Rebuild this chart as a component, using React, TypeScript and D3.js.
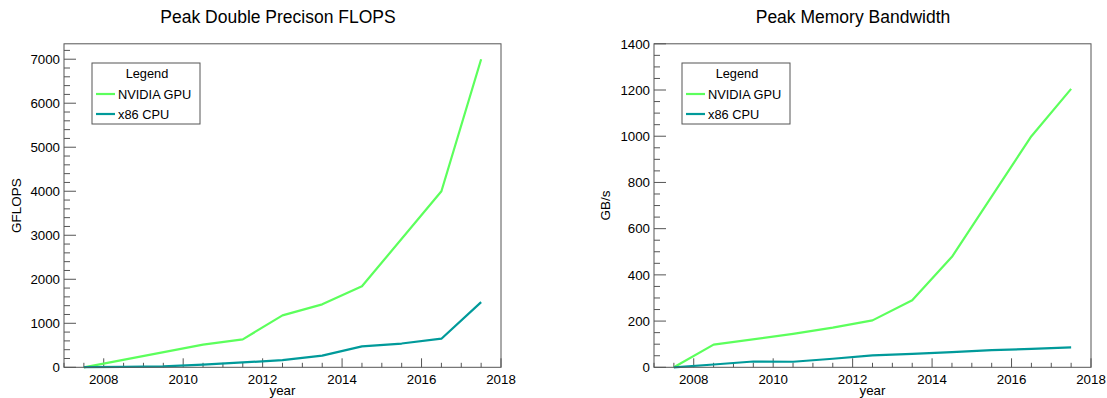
import React from "react";
import * as d3 from "d3";

// ---- Data ----
const gpuFlopsYears = [2007.5, 2010.5, 2011.5, 2012.5, 2013.5, 2014.5, 2016.5, 2017.5];
const gpuFlopsValues = [0, 515, 635, 1180, 1430, 1840, 4000, 7000];
const cpuFlopsYears = [2007.5, 2008.5, 2009.5, 2010.5, 2011.5, 2012.5, 2013.5, 2014.5, 2015.5, 2016.5, 2017.5];
const cpuFlopsValues = [5, 10, 20, 60, 110, 165, 265, 475, 540, 650, 1480];

const gpuBwYears = [2007.5, 2008.5, 2010.5, 2011.5, 2012.5, 2013.5, 2014.5, 2016.5, 2017.5];
const gpuBwValues = [0, 98, 145, 172, 203, 290, 478, 1000, 1205];
const cpuBwYears = [2007.5, 2008.5, 2009.5, 2010.5, 2011.5, 2012.5, 2013.5, 2014.5, 2015.5, 2016.5, 2017.5];
const cpuBwValues = [0, 12, 25, 24, 37, 52, 58, 66, 74, 80, 86];

const seriesNames = ["NVIDIA GPU", "x86 CPU"];
const seriesColors = ["#5cff5c", "#009a9a"];
const xTickYears = [2008, 2010, 2012, 2014, 2016, 2018];

const FONT = "'Liberation Sans', Arial, Helvetica, sans-serif";

type PanelProps = {
  title: string;
  titleX: number;
  yLabel: string;
  yLabelX: number;
  x0: number;
  x1: number;
  yMax: number;
  yMajor: number;
  ySub: number;
  series: { years: number[]; values: number[] }[];
};

const TOP = 43.8;
const BOTTOM = 367.3;

function Panel(p: PanelProps) {
  const x = d3.scaleLinear().domain([2007, 2018]).range([p.x0, p.x1]);
  const y = d3.scaleLinear().domain([0, p.yMax]).range([BOTTOM, TOP]);
  const line = d3
    .line<[number, number]>()
    .x((d) => x(d[0]))
    .y((d) => y(d[1]));

  const majorY = d3.range(0, p.yMax + 0.001, p.yMajor);
  const minorY = d3.range(0, p.yMax + 0.001, p.yMajor / p.ySub).filter(
    (v) => Math.abs(v / p.yMajor - Math.round(v / p.yMajor)) > 1e-6
  );
  const minorX = d3.range(2007, 2018.001, 0.5).filter((v) => Math.abs(v / 2 - Math.round(v / 2)) > 1e-6);

  const lx = p.x0 + 28;
  const ly = 63;
  return (
    <g>
      <text x={p.titleX} y={23} textAnchor="middle" fontFamily={FONT} fontSize={17.5} fill="#000">
        {p.title}
      </text>
      {/* y ticks */}
      {minorY.map((v) => (
        <line key={"my" + v} x1={p.x0} x2={p.x0 + 6} y1={y(v)} y2={y(v)} stroke="#555" strokeWidth={1} />
      ))}
      {majorY.map((v) => (
        <g key={"My" + v}>
          <line x1={p.x0} x2={p.x0 + 12} y1={y(v)} y2={y(v)} stroke="#555" strokeWidth={1} />
          <text x={p.x0 - 4} y={y(v) + 4.7} textAnchor="end" fontFamily={FONT} fontSize={13.3} fill="#000">
            {v}
          </text>
        </g>
      ))}
      {/* x ticks */}
      {minorX.map((v) => (
        <line key={"mx" + v} x1={x(v)} x2={x(v)} y1={BOTTOM} y2={BOTTOM - 4.5} stroke="#555" strokeWidth={1} />
      ))}
      {xTickYears.map((v) => (
        <g key={"Mx" + v}>
          <line x1={x(v)} x2={x(v)} y1={BOTTOM} y2={BOTTOM - 9} stroke="#555" strokeWidth={1} />
          <text x={x(v)} y={BOTTOM + 17} textAnchor="middle" fontFamily={FONT} fontSize={13.3} fill="#000">
            {v}
          </text>
        </g>
      ))}
      <text x={(p.x0 + p.x1) / 2} y={BOTTOM + 28} textAnchor="middle" fontFamily={FONT} fontSize={13.3} fill="#000">
        year
      </text>
      <text
        transform={`translate(${p.yLabelX},${(TOP + BOTTOM) / 2}) rotate(-90)`}
        textAnchor="middle"
        fontFamily={FONT}
        fontSize={13.5}
        fill="#000"
      >
        {p.yLabel}
      </text>
      {/* series */}
      {p.series.map((s, i) => (
        <path
          key={"s" + i}
          d={line(s.years.map((yr, j) => [yr, s.values[j]] as [number, number])) || ""}
          fill="none"
          stroke={seriesColors[i]}
          strokeWidth={2.2}
          strokeLinejoin="round"
        />
      ))}
      {/* frame */}
      <rect x={p.x0} y={TOP} width={p.x1 - p.x0} height={BOTTOM - TOP} fill="none" stroke="#555" strokeWidth={1} />
      {/* legend */}
      <rect x={lx} y={ly} width={108} height={61} fill="#fff" stroke="#555" strokeWidth={1} />
      <text x={lx + 55} y={ly + 15} textAnchor="middle" fontFamily={FONT} fontSize={12.8} fill="#000">
        Legend
      </text>
      {seriesNames.map((n, i) => (
        <g key={"l" + n}>
          <line x1={lx + 4} x2={lx + 23} y1={ly + 31 + i * 20} y2={ly + 31 + i * 20} stroke={seriesColors[i]} strokeWidth={2.2} />
          <text x={lx + 26} y={ly + 35.5 + i * 20} fontFamily={FONT} fontSize={12.8} fill="#000">
            {n}
          </text>
        </g>
      ))}
    </g>
  );
}

export default function App() {
  return (
    <svg
      width={1107}
      height={398}
      style={{ position: "absolute", left: 0, top: 0, background: "#fff" }}
    >
      <rect x={0} y={0} width={1107} height={398} fill="#fff" />
      <Panel
        title="Peak Double Precison FLOPS"
        titleX={278}
        yLabel="GFLOPS"
        yLabelX={21}
        x0={64}
        x1={501}
        yMax={7350}
        yMajor={1000}
        ySub={5}
        series={[
          { years: gpuFlopsYears, values: gpuFlopsValues },
          { years: cpuFlopsYears, values: cpuFlopsValues },
        ]}
      />
      <Panel
        title="Peak Memory Bandwidth"
        titleX={853}
        yLabel="GB/s"
        yLabelX={610}
        x0={654}
        x1={1091}
        yMax={1400}
        yMajor={200}
        ySub={4}
        series={[
          { years: gpuBwYears, values: gpuBwValues },
          { years: cpuBwYears, values: cpuBwValues },
        ]}
      />
    </svg>
  );
}
